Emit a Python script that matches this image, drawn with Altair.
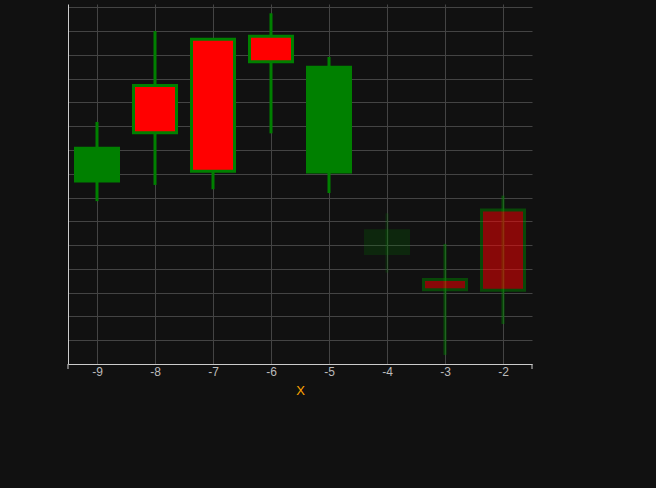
import altair as alt
import pandas as pd

# ---- data ----
periods = [-9, -8, -7, -6, -5, -4, -3, -2]
open_px = [7.70, 11.71, 13.66, 13.78, 8.07, 4.65, 3.55, 6.48]
close_px = [9.07, 9.73, 8.11, 12.71, 12.48, 5.60, 3.12, 3.10]
high_px = [10.18, 14.00, 13.66, 14.75, 12.91, 6.34, 5.05, 7.08]
low_px = [6.85, 7.53, 7.35, 9.70, 7.19, 3.84, 0.38, 1.68]
phase = ["actual", "actual", "actual", "actual", "actual", "pending", "partial", "partial"]

x_edges = [-9.5, -1.5]
y_domain = [0, 15.14]
y_grid = list(range(1, 16))

df = pd.DataFrame({
    "period": periods,
    "open": open_px,
    "close": close_px,
    "high": high_px,
    "low": low_px,
    "phase": phase,
})
df["dir"] = ["up" if c > o else "down" for o, c in zip(open_px, close_px)]

GREEN = "#008000"
RED = "#ff0000"
AXIS_C = "#cccccc"

x_enc = alt.X(
    "period:Q",
    scale=alt.Scale(domain=x_edges, nice=False, zero=False, padding=0),
    axis=alt.Axis(
        values=periods, title="X", ticks=False, tickSize=0,
        labelExpr="'' + datum.value",
        labelPadding=2, labelColor="#bbbbbb", labelFontSize=12,
        labelFont="Liberation Sans", titleFont="Liberation Sans",
        titleColor="#FFA500", titleFontSize=13, titleFontWeight="normal",
        titlePadding=7, domainColor=AXIS_C, gridColor="#444444",
    ),
)
y_scale = alt.Scale(domain=y_domain, nice=False, zero=False)
y_axis = alt.Axis(values=y_grid, labels=False, ticks=False, title=None,
                  domainColor=AXIS_C, gridColor="#444444")

op_enc = alt.Opacity("phase:N",
                     scale=alt.Scale(type="ordinal",
                                     domain=["actual", "pending", "partial"],
                                     range=[1.0, 0.2, 0.5]),
                     legend=None)

base = alt.Chart(df)

wick = base.mark_rule(strokeWidth=3, color=GREEN).encode(
    x=x_enc,
    y=alt.Y("low:Q", scale=y_scale, axis=y_axis),
    y2="high:Q",
    opacity=op_enc,
)

body = base.mark_bar(size=43, stroke=GREEN, strokeWidth=3).encode(
    x=x_enc,
    y=alt.Y("open:Q", scale=y_scale, axis=y_axis),
    y2="close:Q",
    fill=alt.Fill("dir:N", scale=alt.Scale(domain=["up", "down"], range=[GREEN, RED]),
                  legend=None),
    opacity=op_enc,
)

ends = alt.Chart(pd.DataFrame({"period": x_edges})).mark_rule(
    color=AXIS_C, strokeWidth=1
).encode(
    x=x_enc,
    y=alt.value(360),
    y2=alt.value(365),
)

chart = alt.layer(wick, body, ends).properties(
    width=464,
    height=360,
    background="#111111",
    autosize=alt.AutoSizeParams(type="none"),
    padding={"left": 68, "top": 4, "right": 124, "bottom": 124},
).configure_view(stroke=None)

chart.save("out.html", embed_options={"renderer": "svg", "actions": False})
